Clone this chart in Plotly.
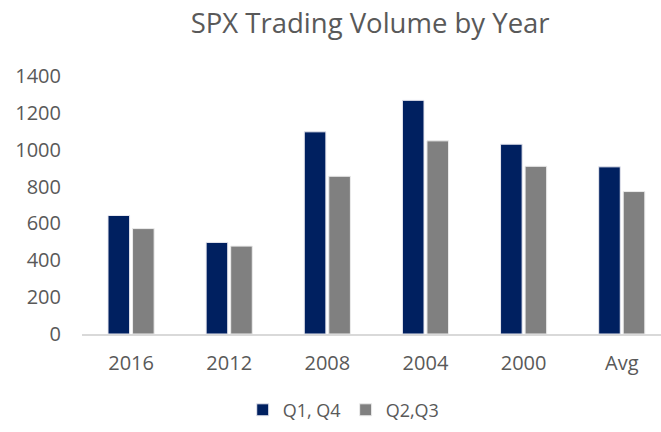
import plotly.graph_objects as go

# data
years = ["2016", "2012", "2008", "2004", "2000", "Avg"]
q1_q4 = [643, 497, 1097, 1268, 1030, 907]
q2_q3 = [572, 477, 856, 1048, 910, 773]

fig = go.Figure()
fig.add_trace(go.Bar(
    x=years, y=q1_q4, name="Q1, Q4",
    marker=dict(color="#002060", line=dict(width=1, color="#e8e8f0")),
))
fig.add_trace(go.Bar(
    x=years, y=q2_q3, name="Q2,Q3",
    marker=dict(color="#808080", line=dict(width=1, color="#ececec")),
))

# the reference plot area runs past the right edge, so the x range is extended
fig.update_layout(
    width=661, height=432,
    paper_bgcolor="white", plot_bgcolor="white",
    font=dict(family="Open Sans, sans-serif", color="#595959", size=20),
    title=dict(text="SPX Trading Volume by Year", x=0.56, xanchor="center",
               y=0.947, yanchor="middle",
               font=dict(size=27.5, color="#595959")),
    barmode="group", bargap=0.5, bargroupgap=0.12,
    margin=dict(l=82, r=0, t=76, b=98),
    xaxis=dict(showline=True, linecolor="#d9d9d9", linewidth=2, ticks="",
               range=[-0.5, 5.4],
               showgrid=False, tickfont=dict(size=20), ticklabelstandoff=10),
    yaxis=dict(range=[0, 1400], dtick=200, showgrid=False, zeroline=False,
               ticks="", tickfont=dict(size=20), ticklabelstandoff=20),
    legend=dict(orientation="h", x=0.452, xanchor="center", y=-0.295,
                yanchor="middle", font=dict(size=18)),
    showlegend=True,
)

# drop the default page margin so the figure sits at the window's corner
fig.write_html("out.html", config={"displayModeBar": False},
               post_script="document.body.style.margin = '0';")
